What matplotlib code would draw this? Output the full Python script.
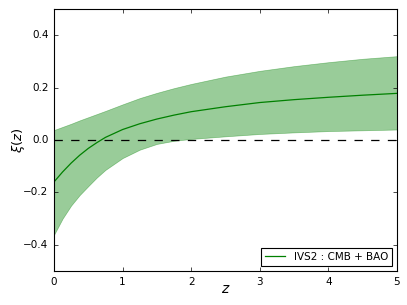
import matplotlib
matplotlib.use("Agg")
import matplotlib.pyplot as plt

z = [0, 0.125, 0.25, 0.375, 0.5, 0.625, 0.75, 1, 1.25, 1.5, 1.75, 2, 2.5, 3, 3.5, 4, 4.5, 5]
xi_upper = [0.038, 0.050, 0.062, 0.075, 0.087, 0.099, 0.111, 0.136, 0.160, 0.180, 0.198, 0.214,
            0.242, 0.264, 0.282, 0.297, 0.310, 0.320]
xi_mean = [-0.160, -0.122, -0.088, -0.058, -0.032, -0.010, 0.010, 0.040, 0.062, 0.080, 0.095, 0.108,
           0.127, 0.143, 0.154, 0.163, 0.171, 0.178]
xi_lower = [-0.362, -0.300, -0.250, -0.210, -0.176, -0.143, -0.114, -0.069, -0.037, -0.015, -0.003, 0.004,
            0.014, 0.023, 0.029, 0.034, 0.037, 0.040]
label = "IVS2 : CMB + BAO"

plt.style.use('classic')
plt.rcParams['font.family'] = ['DejaVu Sans']
plt.rcParams['mathtext.fontset'] = 'dejavusans'
fig = plt.figure(figsize=(4.07, 3.05), dpi=100, facecolor='white')
ax = fig.add_axes([0.1327, 0.1115, 0.8427, 0.859])
ax.fill_between(z, xi_lower, xi_upper, color='green', alpha=0.4, linewidth=0.5)
ax.plot(z, xi_mean, color='green', linewidth=0.9, label=label)
ax.axhline(0, color='black', linestyle='--', linewidth=0.9)
ax.set_xlim(0, 5)
ax.set_ylim(-0.5, 0.5)
ax.set_xticks([0, 1, 2, 3, 4, 5])
ax.set_yticks([-0.4, -0.2, 0.0, 0.2, 0.4])
ax.tick_params(labelsize=7.5, direction='in', length=3, width=0.5)
for s in ax.spines.values():
    s.set_linewidth(0.8)
ax.set_xlabel('$z$', fontsize=10, labelpad=-3)
ax.set_ylabel(r'$\xi(z)$', fontsize=9.5, labelpad=-2.5)
leg = ax.legend(loc='lower right', fontsize=7.5, fancybox=False, handlelength=2.0,
                borderpad=0.35, borderaxespad=0.5, numpoints=1)
leg.get_frame().set_linewidth(0.8)
fig.savefig('out.png', dpi=100, facecolor='white')
